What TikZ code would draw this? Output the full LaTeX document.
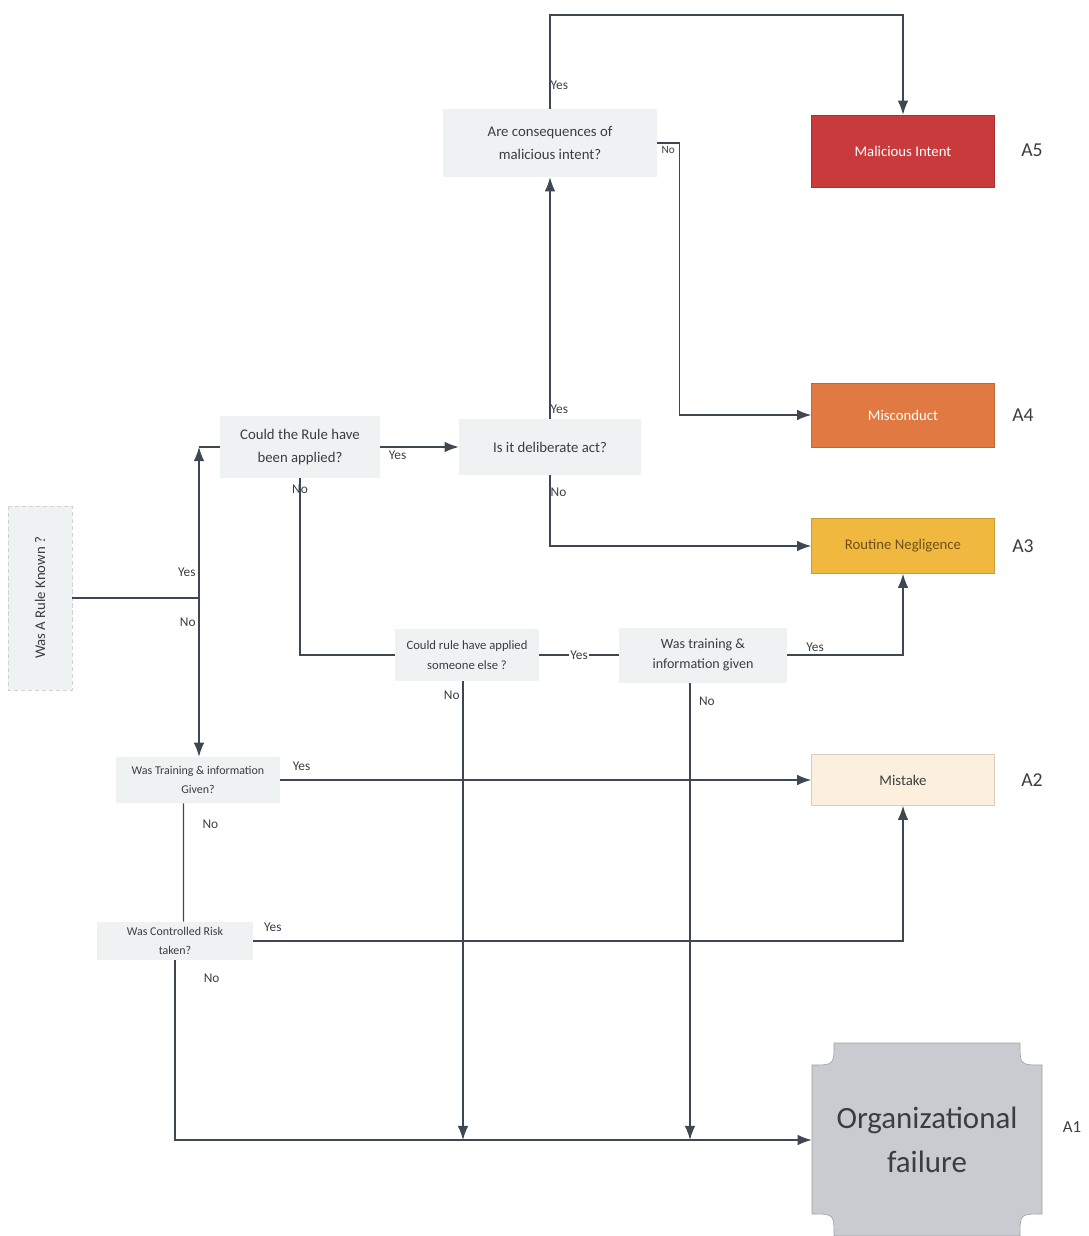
\documentclass[tikz,border=0pt]{standalone}
\usepackage{fontspec}
\setmainfont{Carlito}
\usetikzlibrary{arrows.meta}
\definecolor{askfill}{RGB}{238,242,243}
\definecolor{linecol}{RGB}{62,72,82}
\definecolor{malred}{RGB}{200,58,60}
\definecolor{misorange}{RGB}{224,122,66}
\definecolor{routgold}{RGB}{240,184,62}
\definecolor{routtext}{RGB}{110,80,30}
\definecolor{mistcream}{RGB}{252,239,222}
\definecolor{orggray}{RGB}{200,203,207}
\definecolor{inktext}{RGB}{58,62,66}
\begin{document}
\begin{tikzpicture}[x=0.025cm, y=-0.025cm, font=\fontsize{10.5}{16}\selectfont,
  ask/.style={fill=askfill, text=inktext, align=center, inner sep=2pt},
  result/.style={draw=#1!85!black, line width=0.4pt, fill=#1,
                 minimum width=4.575cm, inner sep=2pt},
  tag/.style={text=inktext, font=\fontsize{14}{16}\selectfont},
  lbl/.style={text=inktext, font=\fontsize{9.5}{11}\selectfont, inner sep=2pt},
  arrow/.style={-{Latex[length=10pt,width=7.5pt]}, line width=0.9pt, draw=linecol},
  link/.style={line width=0.9pt, draw=linecol}
]
  \useasboundingbox (0,0) rectangle (1088,1236);

  \node[ask, rotate=90, minimum width=4.6cm, minimum height=1.6cm,
        draw=gray!35, densely dashed, line width=0.4pt] (known) at (40,598) {Was A Rule Known ?};
  \node[ask, minimum width=4cm, minimum height=1.55cm]    (q1) at (300,447) {Could the Rule have\\been applied?};
  \node[ask, minimum width=4.55cm, minimum height=1.375cm] (q2) at (550,447) {Is it deliberate act?};
  \node[ask, minimum width=5.35cm, minimum height=1.7cm]  (q3) at (550,143) {Are consequences of\\malicious intent?};
  \node[ask, minimum width=3.6cm, minimum height=1.3cm, font=\fontsize{9}{14}\selectfont]
        (q4) at (467,655) {Could rule have applied\\someone else ?};
  \node[ask, minimum width=4.2cm, minimum height=1.375cm, font=\fontsize{10}{14}\selectfont]
        (q5) at (703,655) {Was training \&\\information given};
  \node[ask, minimum width=4.1cm, minimum height=1.15cm, font=\fontsize{8.5}{13}\selectfont]
        (q6) at (198,780) {Was Training \& information\\Given?};
  \node[ask, minimum width=3.9cm, minimum height=0.95cm, inner sep=1pt, font=\fontsize{8.5}{13}\selectfont]
        (q7) at (175,941) {Was Controlled Risk\\taken?};

  \node[result=malred, minimum height=1.8cm, text=white]       (a5) at (903,151) {Malicious Intent};
  \node[result=misorange, minimum height=1.6cm, text=white]    (a4) at (903,415) {Misconduct};
  \node[result=routgold, minimum height=1.375cm, text=routtext] (a3) at (903,546) {Routine Negligence};
  \node[result=mistcream, minimum height=1.275cm, text=inktext] (a2) at (903,780) {Mistake};
  \fill[orggray, draw=gray!75, line width=0.4pt]
    (834,1043) -- (1020,1043) .. controls (1020,1065) .. (1042,1065)
    -- (1042,1214) .. controls (1020,1214) .. (1020,1236)
    -- (834,1236) .. controls (834,1214) .. (812,1214)
    -- (812,1065) .. controls (834,1065) .. (834,1043) -- cycle;
  \node[text=inktext, align=center, font=\fontsize{22}{31}\selectfont,
        minimum width=5.75cm, minimum height=4.825cm] (a1) at (927,1140) {Organizational\\failure};

  \node[tag] (t5) at (1032,150) {A5};
  \node[tag] (t4) at (1023,415) {A4};
  \node[tag] (t3) at (1023,546) {A3};
  \node[tag] (t2) at (1032,780) {A2};
  \node[tag, font=\fontsize{12}{14}\selectfont] (t1) at (1072,1127) {A1};

  \coordinate (split) at (199,598);
  \coordinate (turn)  at (199,447);
  \coordinate (top)   at (550,15);
  \path ([xshift=-1mm]q4.south) coordinate (d4)
        ([xshift=-3.25mm]q5.south) coordinate (d5)
        ([xshift=-3.6mm]q6.south) coordinate (d6)
        ([xshift=2.15mm]q7.north) coordinate (r7);

  \draw[link] (known.south) -- (split);
  \draw[arrow] (split) -- node[lbl, left, pos=0.17]{Yes} (turn);
  \draw[link] (turn) -- (q1.west);
  \draw[arrow] (split) -- node[lbl, left, pos=0.15]{No} (split |- q6.north);

  \draw[arrow] (q1.east) -- node[lbl, below, pos=0.22]{Yes} (q2.west);
  \draw[arrow] (q2.north) -- node[lbl, right, pos=0.04, inner sep=0pt]{Yes} (q3.south);
  \draw[arrow] (q3.north) -- node[lbl, right, pos=0.25, inner sep=0pt]{Yes} (top) -| (a5.north);
  \draw[arrow] (q3.east) -- node[lbl, below, font=\fontsize{8}{9}\selectfont]{No} ++(22,0) |- (a4.west);
  \draw[arrow] (q2.south) |- node[lbl, right, pos=0.12, inner sep=0pt]{No} (a3.west);

  \draw[link] (q1.south) |- node[lbl, pos=0.03, inner sep=0pt]{No} (q4.west);
  \draw[link] (q4.east) -- node[lbl, fill=white, inner sep=1pt]{Yes} (q5.west);
  \draw[arrow] (q5.east) -| node[lbl, above, pos=0.12]{Yes} (a3.south);
  \draw[arrow] (d4) -- node[lbl, left, pos=0.03]{No} (d4 |- a1.west);
  \draw[arrow] (d5) -- node[lbl, right, xshift=4pt, pos=0.04]{No} (d5 |- a1.west);

  \draw[arrow] (q6.east) -- node[lbl, above, pos=0.04, yshift=4pt]{Yes} (a2.west);
  \draw[link] (d6) -- node[lbl, right, xshift=11pt, pos=0.18]{No} (r7);
  \draw[arrow] (q7.east) -| node[lbl, above, pos=0.015, yshift=4pt]{Yes} (a2.south);
  \draw[arrow] (q7.south) |- node[lbl, right, xshift=18pt, pos=0.05]{No} (a1.west);
\end{tikzpicture}
\end{document}
